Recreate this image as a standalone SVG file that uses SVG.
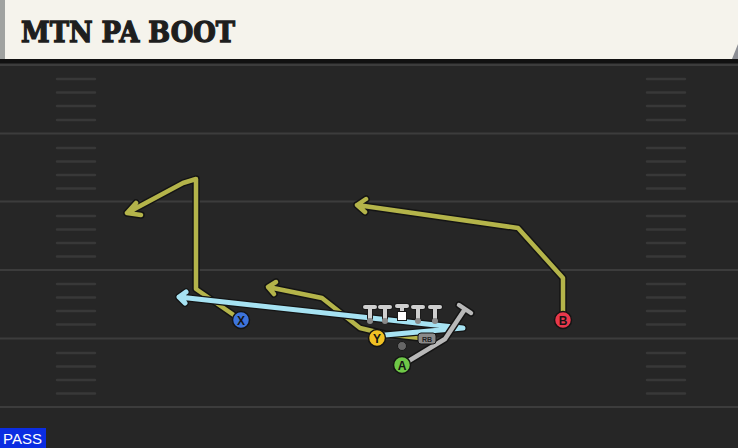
<svg xmlns="http://www.w3.org/2000/svg" width="738" height="448" viewBox="0 0 738 448">
<style>
.fl{stroke:#3c3c3c;stroke-width:2;fill:none}
.hm{stroke:#383838;stroke-width:2.5;stroke-linecap:round}
.ol{fill:none;stroke:#141414;stroke-width:7.5;stroke-linejoin:round;stroke-linecap:round}
.olive{fill:none;stroke:#b4b44a;stroke-width:4.5;stroke-linejoin:round;stroke-linecap:round}
.blue{fill:none;stroke:#a6e2f2;stroke-width:5;stroke-linejoin:round;stroke-linecap:round}
.gray{fill:none;stroke:#b8b8b8;stroke-width:4.5;stroke-linejoin:round;stroke-linecap:round}
.lmo{fill:none;stroke:#1a1a1a;stroke-width:6;stroke-linecap:round}
.lineman{fill:none;stroke:#cfcfcf;stroke-width:4;stroke-linecap:round}
.pc{stroke:#141414;stroke-width:1.5}
.pt{font-family:"Liberation Sans",Arial,sans-serif;font-weight:bold;font-size:12px;fill:#141414;text-anchor:middle}
</style>
<rect x="0" y="0" width="738" height="448" fill="#262626"/>
<g id="field">
<path class="fl" d="M0 65H738M0 133.5H738M0 201.5H738M0 270H738M0 338.5H738M0 407H738"/>
<g id="hash-left">
<path class="hm" d="M57 79H95M57 92.5H95M57 106H95M57 120H95M57 148H95M57 161.5H95M57 175H95M57 188.5H95M57 216H95M57 229.5H95M57 243H95M57 256.5H95M57 284H95M57 297.5H95M57 311H95M57 324.5H95M57 353H95M57 366.5H95M57 380H95M57 393.5H95"/>
</g>
<g id="hash-right">
<path class="hm" d="M647 79H685M647 92.5H685M647 106H685M647 120H685M647 148H685M647 161.5H685M647 175H685M647 188.5H685M647 216H685M647 229.5H685M647 243H685M647 256.5H685M647 284H685M647 297.5H685M647 311H685M647 324.5H685M647 353H685M647 366.5H685M647 380H685M647 393.5H685"/>
</g>
</g>
<g id="header">
<rect x="0" y="59" width="738" height="4" fill="#111"/>
<polygon points="732,44 738,44 738,59 732,59" fill="#8c8e94"/>
<polygon points="0,0 738,0 738,44 732,59 0,59" fill="#f5f3ec"/>
<rect x="0" y="0" width="5" height="59" fill="#a0a2a0"/>
<text x="21" y="42" font-family="'DejaVu Serif',serif" font-weight="bold" font-size="28" fill="#1e1e1e" stroke="#1e1e1e" stroke-width="1.3" textLength="214" lengthAdjust="spacingAndGlyphs">MTN PA BOOT</text>
</g>
<g id="connectors">
<defs>
<path id="rX" d="M241 320L196 289L196 179L183 183L127 213M136 203L127 213L141 215"/>
<path id="rB" d="M563 320L563 278L518 228L357 205M366 199L357 205L365 212"/>
<path id="rY" d="M420 338L385 334L360 328L322 298L268 287M276 282L268 287L274 294"/>
<path id="rBlue" d="M385 335L463 328L179 297M186 292L179 297L185 303"/>
<path id="rA" d="M402 365L445 339L465 309M459 305L471 313"/>
</defs>
<use href="#rX" class="ol"/>
<use href="#rX" class="olive"/>
<use href="#rB" class="ol"/>
<use href="#rB" class="olive"/>
<use href="#rY" class="ol"/>
<use href="#rY" class="olive"/>
<use href="#rBlue" class="ol"/>
<use href="#rBlue" class="blue"/>
<use href="#rA" class="ol"/>
<use href="#rA" class="gray"/>
</g>
<g id="line">
<defs>
<path id="ts" d="M365 307H375M370 307V318M380 307H390M385 307V318M397 306H407M402 306V312M413 307H423M418 307V318M430 307H440M435 307V318"/>
</defs>
<use href="#ts" class="lmo"/>
<use href="#ts" class="lineman"/>
<rect x="397.5" y="311.5" width="9" height="9" fill="#ffffff" stroke="#1a1a1a" stroke-width="1"/>
<circle cx="370" cy="321" r="3" fill="#8a8a8a"/>
<circle cx="385" cy="321" r="3" fill="#8a8a8a"/>
<circle cx="418" cy="321" r="3" fill="#8a8a8a"/>
<circle cx="435" cy="321" r="3" fill="#8a8a8a"/>
</g>
<g id="qb"><circle cx="402" cy="346" r="4.5" fill="#666" stroke="#1a1a1a" stroke-width="1"/></g>
<g id="RB">
<rect x="418" y="333" width="18" height="11" rx="3" fill="#8a8a8a" stroke="#141414" stroke-width="1"/>
<text x="427" y="341.5" font-family="'Liberation Sans',Arial,sans-serif" font-weight="bold" font-size="7" fill="#222" text-anchor="middle">RB</text>
</g>
<g id="X"><circle cx="241" cy="320" r="8.5" fill="#3d74dc" class="pc"/><text x="241" y="324.5" class="pt">X</text></g>
<g id="Y"><circle cx="377" cy="338" r="8.5" fill="#f0c124" class="pc"/><text x="377" y="342.5" class="pt">Y</text></g>
<g id="A"><circle cx="402" cy="365" r="8.5" fill="#6ec747" class="pc"/><text x="402" y="369.5" class="pt">A</text></g>
<g id="B"><circle cx="563" cy="320" r="8.5" fill="#e8384b" class="pc"/><text x="563" y="324.5" class="pt">B</text></g>
<g id="pass">
<rect x="0" y="428" width="46" height="20" fill="#0b2de2"/>
<text x="3" y="444" font-family="'Liberation Sans',Arial,sans-serif" font-size="15" fill="#ffffff">PASS</text>
</g>
</svg>
